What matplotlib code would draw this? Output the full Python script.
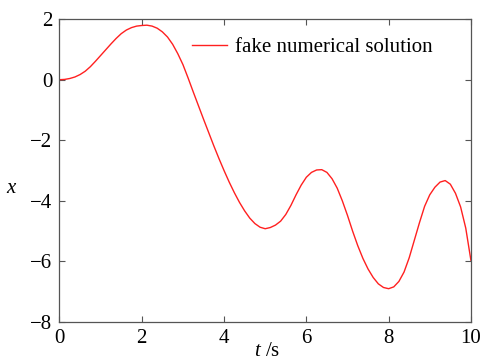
import matplotlib
matplotlib.use("Agg")
import matplotlib.pyplot as plt
import numpy as np

# time samples (s) and the displacement
t = [0.0, 0.125, 0.25, 0.375, 0.5, 0.625, 0.75, 0.875,
     1.0, 1.125, 1.25, 1.375, 1.5, 1.625, 1.75, 1.875,
     2.0, 2.125, 2.25, 2.375, 2.5, 2.625, 2.75, 2.875,
     3.0, 3.125, 3.25, 3.375, 3.5, 3.625, 3.75, 3.875,
     4.0, 4.125, 4.25, 4.375, 4.5, 4.625, 4.75, 4.875,
     5.0, 5.125, 5.25, 5.375, 5.5, 5.625, 5.75, 5.875,
     6.0, 6.125, 6.25, 6.375, 6.5, 6.625, 6.75, 6.875,
     7.0, 7.125, 7.25, 7.375, 7.5, 7.625, 7.75, 7.875,
     8.0, 8.125, 8.25, 8.375, 8.5, 8.625, 8.75, 8.875,
     9.0, 9.125, 9.25, 9.375, 9.5, 9.625, 9.75, 9.875, 10.0]
x = [0.00, 0.01, 0.04, 0.09, 0.17, 0.28, 0.43, 0.61,
     0.80, 0.99, 1.18, 1.36, 1.52, 1.64, 1.72, 1.77,
     1.79, 1.80, 1.77, 1.70, 1.58, 1.41, 1.17, 0.86,
     0.50, 0.06, -0.40, -0.85, -1.30, -1.74, -2.18, -2.60,
     -3.00, -3.38, -3.73, -4.05, -4.33, -4.57, -4.75, -4.87,
     -4.92, -4.88, -4.80, -4.67, -4.45, -4.15, -3.80, -3.48,
     -3.22, -3.06, -2.98, -2.97, -3.06, -3.27, -3.58, -4.00,
     -4.48, -5.00, -5.48, -5.90, -6.25, -6.53, -6.74, -6.86,
     -6.90, -6.84, -6.66, -6.35, -5.88, -5.30, -4.72, -4.18,
     -3.80, -3.55, -3.38, -3.33, -3.45, -3.75, -4.20, -4.90, -5.96]

xticks = [0, 2, 4, 6, 8, 10]
yticks = [-8, -6, -4, -2, 0, 2]
yticklabels = ['\u22128', '\u22126', '\u22124', '\u22122', '0', '2']

plt.rcParams['font.family'] = ['Liberation Serif', 'DejaVu Serif']
plt.rcParams['mathtext.fontset'] = 'custom'
plt.rcParams['mathtext.rm'] = 'Liberation Serif'
plt.rcParams['mathtext.it'] = 'Liberation Serif:italic'

fig = plt.figure(figsize=(4.81, 3.61), dpi=100)
ax = fig.add_axes([0.1237, 0.108, 0.979 - 0.1237, 0.947 - 0.108])

ax.plot(np.array(t), np.array(x), color='#ff2020', linewidth=1.0,
        label='fake numerical solution')

ax.set_xlim(0, 10)
ax.set_ylim(-8, 2)
ax.set_xticks(xticks)
ax.set_yticks(yticks)
ax.set_yticklabels(yticklabels)
ax.tick_params(direction='in', length=4.5, width=0.8, color='#555555',
               labelsize=15, top=True, right=True, pad=5)
for s in ax.spines.values():
    s.set_color('#555555')
    s.set_linewidth(0.9)

leg = ax.legend(loc='upper right', frameon=False, fontsize=15,
                handlelength=1.68, handletextpad=0.35,
                bbox_to_anchor=(0.952, 1.0))

fig.text(0.025, 0.477, '$x$', fontsize=15, ha='center', va='center')
fig.text(0.555, 0.0, '$t$ /s', fontsize=15, ha='center', va='bottom')

fig.savefig('out.png', dpi=100)
